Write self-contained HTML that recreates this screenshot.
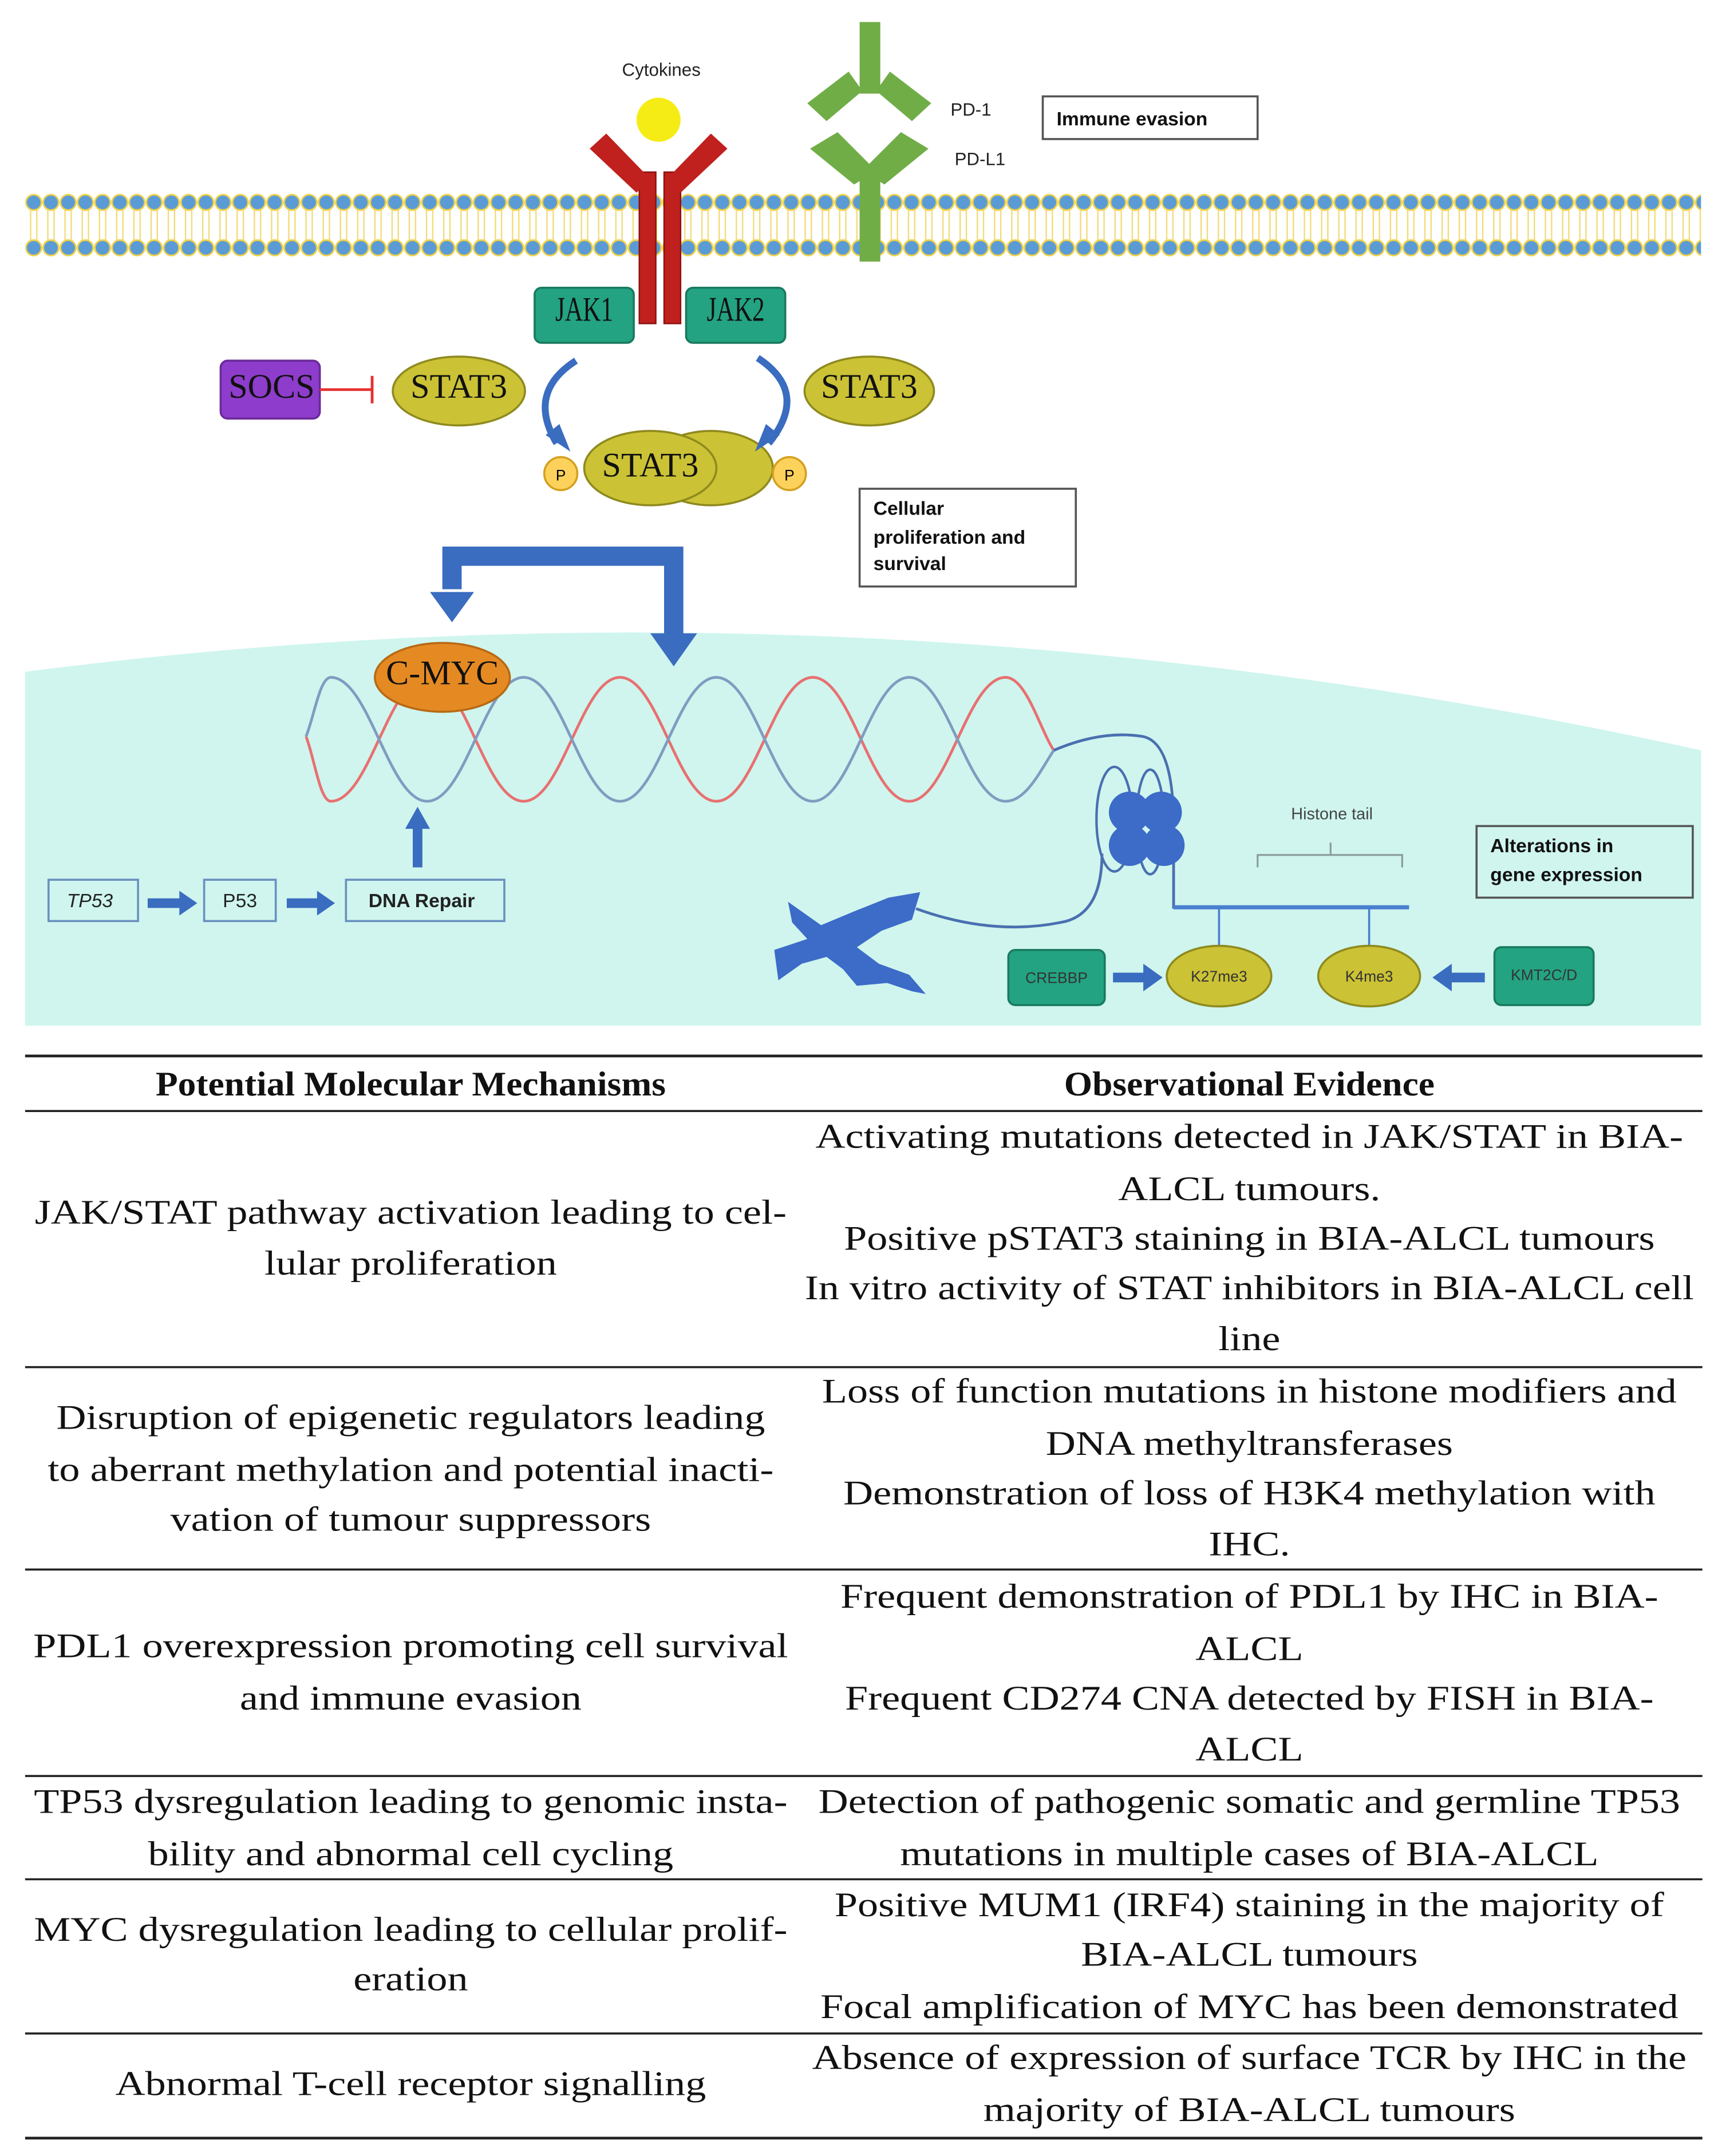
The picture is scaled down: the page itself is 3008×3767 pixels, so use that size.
<!DOCTYPE html>
<html><head><meta charset="utf-8"><style>
html,body{margin:0;padding:0;background:#fff;}
svg{display:block;}
.s{font-family:"Liberation Sans",sans-serif;}
.t{font-family:"Liberation Serif",serif;font-size:25px;fill:#111;}
</style></head><body>
<svg width="3008" height="3767" viewBox="0 0 1250 1566" xmlns="http://www.w3.org/2000/svg">
<defs>
<pattern id="lip" x="18" y="0" width="12.5" height="200" patternUnits="userSpaceOnUse">
<line x1="4" y1="150" x2="4" y2="178" stroke="#f2dc7a" stroke-width="1"/>
<line x1="8.5" y1="150" x2="8.5" y2="178" stroke="#f2dc7a" stroke-width="1"/>
<circle cx="6.25" cy="147" r="5.6" fill="#5b9bd5" stroke="#f0d24a" stroke-width="1.2"/>
<circle cx="6.25" cy="180" r="5.6" fill="#5b9bd5" stroke="#f0d24a" stroke-width="1.2"/>
</pattern>
</defs>
<rect width="1250" height="1566" fill="#fff"/>
<rect x="18" y="138" width="1217" height="50" fill="url(#lip)"/>
<path d="M18,488 Q620,410 1235,545 L1235,745 L18,745 Z" fill="#cff5ee"/>

<text x="480" y="55" class="s" font-size="13" text-anchor="middle" fill="#222">Cytokines</text>
<circle cx="478" cy="87" r="16" fill="#f5ec16"/>
<rect x="464" y="125" width="12" height="110" fill="#c0201e" stroke="#8a1010" stroke-width="1"/>
<rect x="482" y="125" width="12" height="110" fill="#c0201e" stroke="#8a1010" stroke-width="1"/>
<polygon points="428,108 440,97 472,130 462,140" fill="#c0201e"/>
<polygon points="528,108 516,97 484,130 494,140" fill="#c0201e"/>

<rect x="624" y="16" width="15" height="52" fill="#70ad47"/>
<polygon points="586,75 616,52 626,66 600,88" fill="#70ad47"/>
<polygon points="676,75 646,52 636,66 662,88" fill="#70ad47"/>
<polygon points="588,108 608,96 636,124 620,134" fill="#70ad47"/>
<polygon points="674,108 654,96 626,124 642,134" fill="#70ad47"/>
<rect x="624" y="125" width="15" height="65" fill="#70ad47"/>
<text x="690" y="84" class="s" font-size="13" fill="#222">PD-1</text>
<text x="693" y="120" class="s" font-size="13" fill="#222">PD-L1</text>
<rect x="757" y="70" width="156" height="31" fill="#fff" stroke="#555" stroke-width="1.5"/>
<text x="767" y="91" class="s" font-size="14" font-weight="bold" fill="#111">Immune evasion</text>

<rect x="388" y="209" width="72" height="40" rx="5" fill="#23a382" stroke="#1a7a60" stroke-width="1.5"/>
<text x="424" y="233" class="t" font-size="15" text-anchor="middle" textLength="42" lengthAdjust="spacingAndGlyphs">JAK1</text>
<rect x="498" y="209" width="72" height="40" rx="5" fill="#23a382" stroke="#1a7a60" stroke-width="1.5"/>
<text x="534" y="233" class="t" font-size="15" text-anchor="middle" textLength="42" lengthAdjust="spacingAndGlyphs">JAK2</text>

<rect x="160" y="262" width="72" height="42" rx="5" fill="#8e3ccb" stroke="#6a2a9a" stroke-width="1.5"/>
<text x="197" y="289" class="t" font-size="15" text-anchor="middle">SOCS</text>
<line x1="232" y1="283" x2="270" y2="283" stroke="#e53030" stroke-width="2"/>
<line x1="270" y1="273" x2="270" y2="293" stroke="#e53030" stroke-width="2"/>

<ellipse cx="333" cy="284" rx="48" ry="25" fill="#cbc235" stroke="#8f8a1f" stroke-width="1.5"/>
<text x="333" y="289" class="t" font-size="15" text-anchor="middle">STAT3</text>
<ellipse cx="631" cy="284" rx="47" ry="25" fill="#cbc235" stroke="#8f8a1f" stroke-width="1.5"/>
<text x="631" y="289" class="t" font-size="15" text-anchor="middle">STAT3</text>
<ellipse cx="516" cy="340" rx="45" ry="27" fill="#cbc235" stroke="#8f8a1f" stroke-width="1.5"/>
<ellipse cx="472" cy="340" rx="48" ry="27" fill="#cbc235" stroke="#8f8a1f" stroke-width="1.5"/>
<text x="472" y="346" class="t" font-size="15" text-anchor="middle">STAT3</text>
<circle cx="407" cy="344" r="12" fill="#fdd25c" stroke="#d4a020" stroke-width="1.5"/>
<text x="407" y="349" class="s" font-size="11" text-anchor="middle">P</text>
<circle cx="573" cy="344" r="12" fill="#fdd25c" stroke="#d4a020" stroke-width="1.5"/>
<text x="573" y="349" class="s" font-size="11" text-anchor="middle">P</text>
<path d="M418,262 Q382,285 404,322" fill="none" stroke="#3a6cc0" stroke-width="5"/>
<polygon points="396,316 414,328 406,308" fill="#3a6cc0"/>
<path d="M550,260 Q588,285 558,322" fill="none" stroke="#3a6cc0" stroke-width="5"/>
<polygon points="566,316 548,328 556,308" fill="#3a6cc0"/>

<rect x="624" y="355" width="157" height="71" fill="#fff" stroke="#555" stroke-width="1.5"/>
<text class="s" font-size="14" font-weight="bold" fill="#111"><tspan x="634" y="374">Cellular</tspan><tspan x="634" y="395">proliferation and</tspan><tspan x="634" y="414">survival</tspan></text>

<path d="M328,428 L328,404 L489,404 L489,462" fill="none" stroke="#3a6cc0" stroke-width="14"/>
<polygon points="312,430 344,430 328,452" fill="#3a6cc0"/>
<polygon points="472,460 506,460 489,484" fill="#3a6cc0"/>

<path d="M222,535 C228,550 232,582 240,582 C268,582 282,492 310,492 C338,492 352,582 380,582 C408,582 422,492 450,492 C478,492 492,582 520,582 C548,582 562,492 590,492 C618,492 632,582 660,582 C688,582 702,492 730,492 C745,492 755,530 765,545" fill="none" stroke="#e87070" stroke-width="2"/>
<path d="M222,535 C228,520 232,492 240,492 C268,492 282,582 310,582 C338,582 352,492 380,492 C408,492 422,582 450,582 C478,582 492,492 520,492 C548,492 562,582 590,582 C618,582 632,492 660,492 C688,492 702,582 730,582 C745,582 755,560 765,545" fill="none" stroke="#7f9cc0" stroke-width="2"/>
<ellipse cx="321" cy="492" rx="49" ry="25" fill="#e58a23" stroke="#b86a15" stroke-width="1.5"/>
<text x="321" y="497" class="t" font-size="15" text-anchor="middle">C-MYC</text>

<path d="M765,545 Q800,530 830,535 Q852,540 852,600 L852,660" fill="none" stroke="#4a6fb0" stroke-width="2"/>
<ellipse cx="809" cy="595" rx="13" ry="38" fill="none" stroke="#4a6fb0" stroke-width="1.8"/>
<ellipse cx="835" cy="597" rx="10" ry="38" fill="none" stroke="#4a6fb0" stroke-width="1.8"/>
<circle cx="820" cy="590" r="15" fill="#3c6bc8"/><circle cx="843" cy="590" r="15" fill="#3c6bc8"/>
<circle cx="820" cy="614" r="15" fill="#3c6bc8"/><circle cx="845" cy="614" r="15" fill="#3c6bc8"/>
<path d="M665,660 Q720,680 770,670 Q800,665 800,620" fill="none" stroke="#4a6fb0" stroke-width="2"/>
<line x1="852" y1="659" x2="1023" y2="659" stroke="#4a7fd0" stroke-width="3"/>
<line x1="885" y1="659" x2="885" y2="700" stroke="#4a7fd0" stroke-width="1.5"/>
<line x1="994" y1="659" x2="994" y2="700" stroke="#4a7fd0" stroke-width="1.5"/>
<path d="M913,630 L913,621 L1018,621 L1018,630 M966,621 L966,612" fill="none" stroke="#8a9a9a" stroke-width="1.3"/>
<text x="967" y="595" class="s" font-size="12" text-anchor="middle" fill="#444">Histone tail</text>
<path d="M572,655 L596,672 L620,662 L645,652 L668,648 L662,668 L640,676 L622,688 L638,700 L660,708 L672,722 L662,720 L644,714 L622,716 L612,704 L600,695 L582,700 L565,712 L562,690 L586,682 L575,670 Z" fill="#3c6bc8"/>

<rect x="732" y="690" width="70" height="40" rx="5" fill="#23a382" stroke="#1a7a60" stroke-width="1.5"/>
<text x="767" y="714" class="s" font-size="11" text-anchor="middle" fill="#333">CREBBP</text>
<line x1="808" y1="710" x2="832" y2="710" stroke="#3a6cc0" stroke-width="7"/>
<polygon points="830,700 844,710 830,720" fill="#3a6cc0"/>
<ellipse cx="885" cy="709" rx="38" ry="22" fill="#cbc235" stroke="#8f8a1f" stroke-width="1.5"/>
<text x="885" y="713" class="s" font-size="11" text-anchor="middle" fill="#333">K27me3</text>
<ellipse cx="994" cy="709" rx="37" ry="22" fill="#cbc235" stroke="#8f8a1f" stroke-width="1.5"/>
<text x="994" y="713" class="s" font-size="11" text-anchor="middle" fill="#333">K4me3</text>
<line x1="1052" y1="710" x2="1078" y2="710" stroke="#3a6cc0" stroke-width="7"/>
<polygon points="1054,700 1040,710 1054,720" fill="#3a6cc0"/>
<rect x="1085" y="688" width="72" height="42" rx="5" fill="#23a382" stroke="#1a7a60" stroke-width="1.5"/>
<text x="1121" y="712" class="s" font-size="11" text-anchor="middle" fill="#333">KMT2C/D</text>
<rect x="1072" y="600" width="157" height="52" fill="#cff5ee" stroke="#555" stroke-width="1.5"/>
<text class="s" font-size="14" font-weight="bold" fill="#111"><tspan x="1082" y="619">Alterations in</tspan><tspan x="1082" y="640">gene expression</tspan></text>

<rect x="35" y="639" width="65" height="30" fill="#cff5ee" stroke="#6a90c0" stroke-width="1.5"/>
<text x="65" y="659" class="s" font-size="14" font-style="italic" text-anchor="middle" fill="#222">TP53</text>
<line x1="107" y1="656" x2="132" y2="656" stroke="#3a6cc0" stroke-width="7"/>
<polygon points="130,647 143,656 130,665" fill="#3a6cc0"/>
<rect x="148" y="639" width="52" height="30" fill="#cff5ee" stroke="#6a90c0" stroke-width="1.5"/>
<text x="174" y="659" class="s" font-size="14" text-anchor="middle" fill="#222">P53</text>
<line x1="208" y1="656" x2="232" y2="656" stroke="#3a6cc0" stroke-width="7"/>
<polygon points="230,647 243,656 230,665" fill="#3a6cc0"/>
<rect x="251" y="639" width="115" height="30" fill="#cff5ee" stroke="#6a90c0" stroke-width="1.5"/>
<text x="306" y="659" class="s" font-size="14" font-weight="bold" text-anchor="middle" fill="#222">DNA Repair</text>
<line x1="303" y1="630" x2="303" y2="600" stroke="#3a6cc0" stroke-width="7"/>
<polygon points="294,602 303,586 312,602" fill="#3a6cc0"/>

<g stroke="#222">
<line x1="18" y1="767" x2="1236" y2="767" stroke-width="2"/>
<line x1="18" y1="807" x2="1236" y2="807" stroke-width="1.5"/>
<line x1="18" y1="993" x2="1236" y2="993" stroke-width="1.5"/>
<line x1="18" y1="1140" x2="1236" y2="1140" stroke-width="1.5"/>
<line x1="18" y1="1290" x2="1236" y2="1290" stroke-width="1.5"/>
<line x1="18" y1="1365" x2="1236" y2="1365" stroke-width="1.5"/>
<line x1="18" y1="1477" x2="1236" y2="1477" stroke-width="1.5"/>
<line x1="18" y1="1553" x2="1236" y2="1553" stroke-width="2"/>
</g>
<g class="t" text-anchor="middle" dominant-baseline="middle" transform="translate(298,0) scale(1.2,1) translate(-298,0)">
<text x="298" y="790" font-weight="bold" transform="translate(298,0) scale(0.88,1) translate(-298,0)">Potential Molecular Mechanisms</text>
<text x="298" y="883">JAK/STAT pathway activation leading to cel-</text>
<text x="298" y="920">lular proliferation</text>
<text x="298" y="1032">Disruption of epigenetic regulators leading</text>
<text x="298" y="1070">to aberrant methylation and potential inacti-</text>
<text x="298" y="1106">vation of tumour suppressors</text>
<text x="298" y="1198">PDL1 overexpression promoting cell survival</text>
<text x="298" y="1236">and immune evasion</text>
<text x="298" y="1311">TP53 dysregulation leading to genomic insta-</text>
<text x="298" y="1349">bility and abnormal cell cycling</text>
<text x="298" y="1404">MYC dysregulation leading to cellular prolif-</text>
<text x="298" y="1440">eration</text>
<text x="298" y="1516">Abnormal T-cell receptor signalling</text>
</g>
<g class="t" text-anchor="middle" dominant-baseline="middle" transform="translate(907,0) scale(1.2,1) translate(-907,0)">
<text x="907" y="790" font-weight="bold" transform="translate(907,0) scale(0.88,1) translate(-907,0)">Observational Evidence</text>
<text x="907" y="828">Activating mutations detected in JAK/STAT in BIA-</text>
<text x="907" y="866">ALCL tumours.</text>
<text x="907" y="902">Positive pSTAT3 staining in BIA-ALCL tumours</text>
<text x="907" y="938">In vitro activity of STAT inhibitors in BIA-ALCL cell</text>
<text x="907" y="975">line</text>
<text x="907" y="1013">Loss of function mutations in histone modifiers and</text>
<text x="907" y="1051">DNA methyltransferases</text>
<text x="907" y="1087">Demonstration of loss of H3K4 methylation with</text>
<text x="907" y="1124">IHC.</text>
<text x="907" y="1162">Frequent demonstration of PDL1 by IHC in BIA-</text>
<text x="907" y="1200">ALCL</text>
<text x="907" y="1236">Frequent CD274 CNA detected by FISH in BIA-</text>
<text x="907" y="1273">ALCL</text>
<text x="907" y="1311">Detection of pathogenic somatic and germline TP53</text>
<text x="907" y="1349">mutations in multiple cases of BIA-ALCL</text>
<text x="907" y="1386">Positive MUM1 (IRF4) staining in the majority of</text>
<text x="907" y="1422">BIA-ALCL tumours</text>
<text x="907" y="1460">Focal amplification of MYC has been demonstrated</text>
<text x="907" y="1497">Absence of expression of surface TCR by IHC in the</text>
<text x="907" y="1535">majority of BIA-ALCL tumours</text>
</g>
</svg>
</body></html>
